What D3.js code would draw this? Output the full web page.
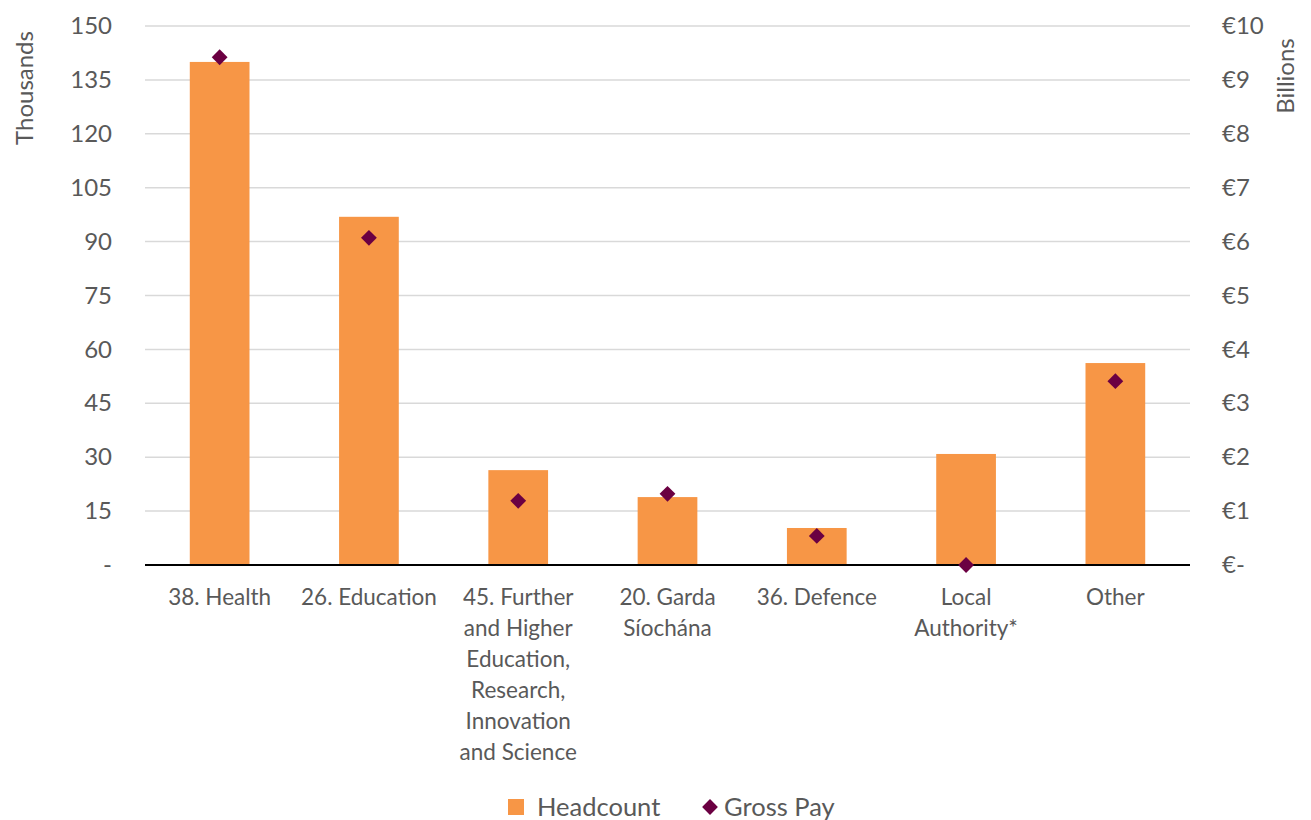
<!DOCTYPE html>
<html>
<head>
<meta charset="utf-8">
<script src="https://cdn.jsdelivr.net/npm/d3@7"></script>
<style>
  body { margin: 0; background: #fff; }
  text { font-family: Lato, "Open Sans", sans-serif; fill: #595959; }
</style>
</head>
<body>
<div id="chart"></div>
<script>
// data
var categories = [
  ["38. Health"],
  ["26. Education"],
  ["45. Further", "and Higher", "Education,", "Research,", "Innovation", "and Science"],
  ["20. Garda", "Síochána"],
  ["36. Defence"],
  ["Local", "Authority*"],
  ["Other"]
];
var headcount = [140.0, 96.9, 26.4, 18.9, 10.3, 30.9, 56.2];   // thousands
var grossPay = [9.42, 6.07, 1.19, 1.32, 0.54, 0.0, 3.41];      // billions
var leftTicks = [0, 15, 30, 45, 60, 75, 90, 105, 120, 135, 150];
var rightTicks = [0, 1, 2, 3, 4, 5, 6, 7, 8, 9, 10];

var svgWidth = 1311;
var svgHeight = 820;
var margin = { top: 26, right: 121, bottom: 255, left: 145 };
var width = svgWidth - margin.left - margin.right;
var height = svgHeight - margin.top - margin.bottom;

var svg = d3.select("#chart")
  .append("svg")
  .attr("width", svgWidth)
  .attr("height", svgHeight);

var chartGroup = svg.append("g")
  .attr("transform", `translate(${margin.left}, ${margin.top})`);

var xScale = d3.scaleBand()
  .domain(d3.range(categories.length))
  .range([0, width])
  .padding(0);

var yLeft = d3.scaleLinear().domain([0, 150]).range([height, 0]);
var yRight = d3.scaleLinear().domain([0, 10]).range([height, 0]);

// gridlines
chartGroup.selectAll(".grid")
  .data(leftTicks.slice(1))
  .enter()
  .append("line")
  .attr("x1", 0)
  .attr("x2", width)
  .attr("y1", d => yLeft(d))
  .attr("y2", d => yLeft(d))
  .attr("stroke", "#d9d9d9")
  .attr("stroke-width", 1.5);

// left axis
var leftAxis = d3.axisLeft(yLeft)
  .tickValues(leftTicks)
  .tickSize(0)
  .tickPadding(33)
  .tickFormat(d => d === 0 ? "-" : d);
var gl = chartGroup.append("g").call(leftAxis);
gl.select(".domain").remove();
gl.selectAll("text").style("font-size", "24px").attr("fill", "#595959");

// right axis
var rightAxis = d3.axisRight(yRight)
  .tickValues(rightTicks)
  .tickSize(0)
  .tickPadding(32)
  .tickFormat(d => d === 0 ? "€-" : "€" + d);
var gr = chartGroup.append("g")
  .attr("transform", `translate(${width}, 0)`)
  .call(rightAxis);
gr.select(".domain").remove();
gr.selectAll("text").style("font-size", "24px").attr("fill", "#595959");

// bars
var barW = xScale.bandwidth() * 0.4;
chartGroup.selectAll(".bar")
  .data(headcount)
  .enter()
  .append("rect")
  .attr("x", (d, i) => xScale(i) + (xScale.bandwidth() - barW) / 2)
  .attr("y", d => yLeft(d))
  .attr("width", barW)
  .attr("height", d => height - yLeft(d))
  .attr("fill", "#F79646");

// baseline
chartGroup.append("line")
  .attr("x1", 0)
  .attr("x2", width)
  .attr("y1", height)
  .attr("y2", height)
  .attr("stroke", "#000")
  .attr("stroke-width", 2);

// diamonds
var diamond = d3.symbol().type(d3.symbolSquare).size(125);
chartGroup.selectAll(".pay")
  .data(grossPay)
  .enter()
  .append("path")
  .attr("d", diamond)
  .attr("transform", (d, i) => `translate(${xScale(i) + xScale.bandwidth() / 2}, ${yRight(d)}) rotate(45)`)
  .attr("fill", "#6B0042");

// category labels
var labels = chartGroup.selectAll(".cat")
  .data(categories)
  .enter()
  .append("text")
  .attr("text-anchor", "middle")
  .style("font-size", "22.5px")
  .attr("transform", (d, i) => `translate(${xScale(i) + xScale.bandwidth() / 2}, ${height + 40})`);
labels.selectAll("tspan")
  .data(d => d)
  .enter()
  .append("tspan")
  .attr("x", 0)
  .attr("y", (d, j) => j * 31)
  .text(d => d);

// axis titles
svg.append("text")
  .attr("transform", "translate(33, 88) rotate(-90)")
  .attr("text-anchor", "middle")
  .style("font-size", "24px")
  .text("Thousands");

svg.append("text")
  .attr("transform", "translate(1294, 76) rotate(-90)")
  .attr("text-anchor", "middle")
  .style("font-size", "24px")
  .text("Billions");

// legend
var legend = svg.append("g").attr("transform", "translate(0, 807)");
legend.append("rect")
  .attr("x", 508).attr("y", -8).attr("width", 16).attr("height", 16)
  .attr("fill", "#F79646");
legend.append("text")
  .attr("x", 537).attr("y", 9)
  .style("font-size", "25.5px")
  .text("Headcount");
legend.append("path")
  .attr("d", diamond)
  .attr("transform", "translate(710, 0) rotate(45)")
  .attr("fill", "#6B0042");
legend.append("text")
  .attr("x", 724).attr("y", 9)
  .style("font-size", "25.5px")
  .text("Gross Pay");
</script>
</body>
</html>
